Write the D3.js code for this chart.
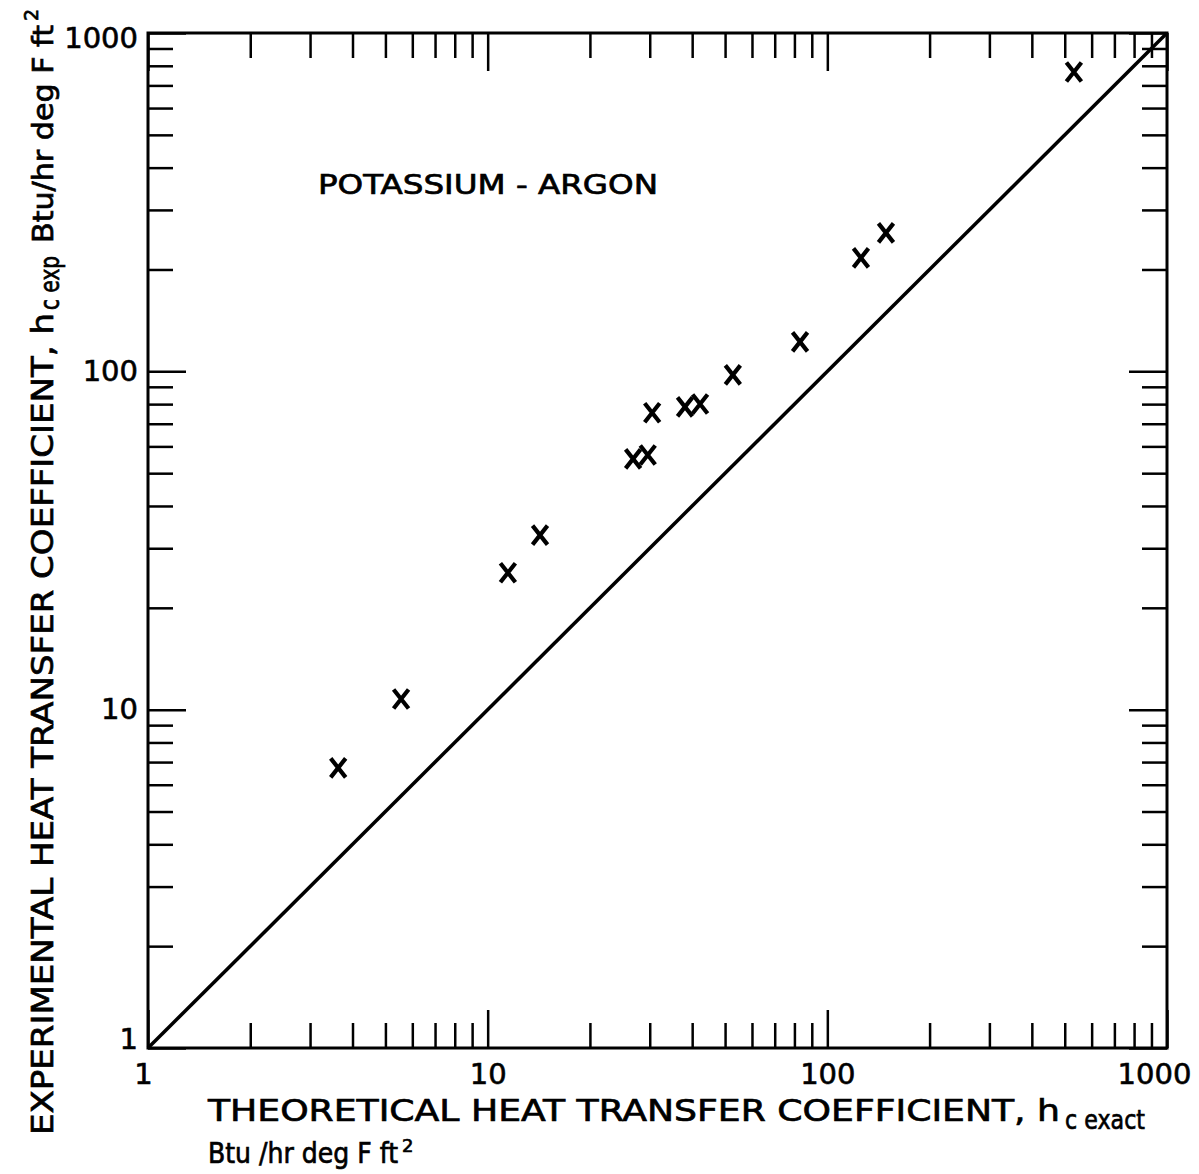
<!DOCTYPE html>
<html>
<head>
<meta charset="utf-8">
<script src="https://cdn.jsdelivr.net/npm/d3@7"></script>
<style>
  html, body { margin: 0; padding: 0; background: #fff; }
  svg { display: block; }
  text { font-family: "DejaVu Sans", "Liberation Sans", sans-serif; fill: #000; }
</style>
</head>
<body>
<svg id="chart" width="1199" height="1174"></svg>
<script>
// Theoretical vs experimental convective coefficient, potassium-argon runs
const hTheory = [3.63, 5.56, 11.47, 14.26, 26.8, 29.6, 30.5, 38.1, 42.2, 52.7, 83.1, 125.6, 148.8, 532];
const hExp    = [6.73, 10.75, 25.4, 32.8, 55.1, 56.6, 75.4, 78.5, 80.1, 97.6, 122.2, 216.4, 256.6, 767];

const majorTicks = [1, 10, 100, 1000];
const majorLabels = ["1", "10", "100", "1000"];
const axisDomain = [1, 1000];
const equalityLine = [1, 1000];   // h_exp = h_theory

const FONT = '"DejaVu Sans", "Liberation Sans", sans-serif';
const svg = d3.select("#chart");
const plot = { left: 148, right: 1167, top: 33, bottom: 1048 };

const x = d3.scaleLog().domain(axisDomain).range([plot.left, plot.right]);
const y = d3.scaleLog().domain(axisDomain).range([plot.bottom, plot.top]);

const minorTicks = x.ticks().filter(v => !majorTicks.includes(v));
const labelOf = v => majorLabels[majorTicks.indexOf(v)];

const MAJ = 38, MIN = 25;

function addAxis(axisGen, transform, values, size, labels, pad) {
  const g = svg.append("g").attr("transform", transform)
    .call(axisGen.tickValues(values).tickSize(-size).tickPadding(pad)
      .tickFormat(labels ? labelOf : () => ""));
  g.select(".domain").remove();
  g.selectAll(".tick line").attr("stroke", "#000").attr("stroke-width", 2.5);
  g.selectAll(".tick text")
    .style("font-family", FONT)
    .attr("font-size", 29)
    .attr("stroke", "#000").attr("stroke-width", 0.6).attr("fill", "#000");
  return g;
}

// bottom
const gB = addAxis(d3.axisBottom(x), `translate(0,${plot.bottom})`, majorTicks, MAJ, true, 15);
addAxis(d3.axisBottom(x), `translate(0,${plot.bottom})`, minorTicks, MIN, false, 15);
// top
addAxis(d3.axisTop(x), `translate(0,${plot.top})`, majorTicks, MAJ, false, 0);
addAxis(d3.axisTop(x), `translate(0,${plot.top})`, minorTicks, MIN, false, 0);
// left
const gL = addAxis(d3.axisLeft(y), `translate(${plot.left},0)`, majorTicks, MAJ, true, 10);
addAxis(d3.axisLeft(y), `translate(${plot.left},0)`, minorTicks, MIN, false, 10);
// right
addAxis(d3.axisRight(y), `translate(${plot.right},0)`, majorTicks, MAJ, false, 0);
addAxis(d3.axisRight(y), `translate(${plot.right},0)`, minorTicks, MIN, false, 0);

// nudge corner labels clear of each other and the frame
gB.selectAll(".tick").filter(d => d === 1).select("text").attr("dx", -5);
gB.selectAll(".tick").filter(d => d === 1000).select("text").attr("dx", -13);
gL.selectAll(".tick").filter(d => d === 1).select("text").attr("dy", "0.0em");
gL.selectAll(".tick").filter(d => d === 1000).select("text").attr("dy", "0.5em");

// frame
svg.append("rect")
  .attr("x", plot.left).attr("y", plot.top)
  .attr("width", plot.right - plot.left).attr("height", plot.bottom - plot.top)
  .attr("fill", "none").attr("stroke", "#000").attr("stroke-width", 3);

// 45-degree equality line
svg.append("line")
  .attr("x1", x(equalityLine[0])).attr("y1", y(equalityLine[0]))
  .attr("x2", x(equalityLine[1])).attr("y2", y(equalityLine[1]))
  .attr("stroke", "#000").attr("stroke-width", 3.5);

// data points as X marks
const pts = hTheory.map((v, i) => [v, hExp[i]]);
svg.append("g").selectAll("path").data(pts).join("path")
  .attr("transform", d => `translate(${x(d[0])},${y(d[1])})`)
  .attr("d", "M-7.5,-9.5L7.5,9.5M7.5,-9.5L-7.5,9.5")
  .attr("stroke", "#000").attr("stroke-width", 4.2).attr("fill", "none");

// panel title
svg.append("text")
  .attr("x", 318).attr("y", 194)
  .attr("font-size", 27).attr("stroke", "#000").attr("stroke-width", 0.7)
  .attr("textLength", 340).attr("lengthAdjust", "spacingAndGlyphs")
  .text("POTASSIUM - ARGON");

// x-axis title
const tx = svg.append("g").attr("stroke", "#000").attr("stroke-width", 0.7);
tx.append("text").attr("x", 208).attr("y", 1121).attr("font-size", 31)
  .attr("textLength", 852).attr("lengthAdjust", "spacingAndGlyphs")
  .text("THEORETICAL HEAT TRANSFER COEFFICIENT, h");
tx.append("text").attr("x", 1065).attr("y", 1129).attr("font-size", 27)
  .attr("textLength", 80).attr("lengthAdjust", "spacingAndGlyphs")
  .text("c exact");
const units = tx.append("text").attr("x", 208).attr("y", 1163).attr("font-size", 28);
units.append("tspan").attr("textLength", 190).attr("lengthAdjust", "spacingAndGlyphs")
  .text("Btu /hr deg F ft");
units.append("tspan").attr("dx", 4).attr("dy", -11).attr("font-size", 18).text("2");

// y-axis title (rotated)
const ty = svg.append("g").attr("stroke", "#000").attr("stroke-width", 0.7);
ty.append("text").attr("transform", "translate(53,1135) rotate(-90)")
  .attr("font-size", 31).attr("textLength", 822).attr("lengthAdjust", "spacingAndGlyphs")
  .text("EXPERIMENTAL HEAT TRANSFER COEFFICIENT, h");
ty.append("text").attr("transform", "translate(59,310) rotate(-90)")
  .attr("font-size", 26).attr("textLength", 54).attr("lengthAdjust", "spacingAndGlyphs")
  .text("c exp");
const yUnits = ty.append("text").attr("transform", "translate(53,243) rotate(-90)")
  .attr("font-size", 28);
yUnits.append("tspan").attr("textLength", 218).attr("lengthAdjust", "spacingAndGlyphs")
  .text("Btu/hr deg F ft");
yUnits.append("tspan").attr("dx", 4).attr("dy", -15).attr("font-size", 19).text("2");
</script>
</body>
</html>
